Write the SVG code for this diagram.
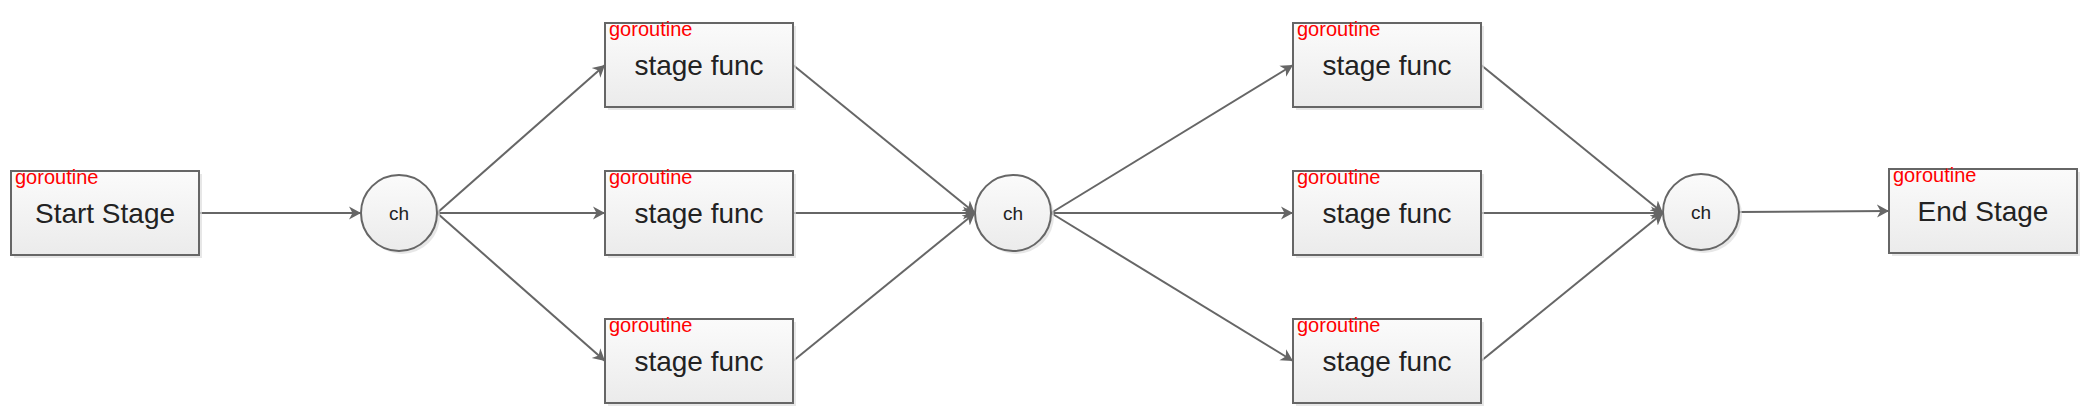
<svg xmlns="http://www.w3.org/2000/svg" width="2082" height="408" viewBox="0 0 2082 408">
<defs>
<linearGradient id="fill" x1="0" y1="0" x2="0" y2="1">
<stop offset="0" stop-color="#fbfbfb"/>
<stop offset="1" stop-color="#ebebeb"/>
</linearGradient>
<marker id="arr" markerUnits="userSpaceOnUse" markerWidth="14" markerHeight="16" viewBox="-12 -8 14 16" refX="0" refY="0" orient="auto">
<path d="M0,0 L-12,-6.5 L-8.5,0 L-12,6.5 Z" fill="#666666"/>
</marker>
</defs>
<style>
.box{fill:url(#fill);stroke:#666666;stroke-width:2}
.shadow{fill:#dddddd;opacity:0.7}
.lbl{font-family:"Liberation Sans",Arial,sans-serif;font-size:28px;fill:#222222;text-anchor:middle}
.tag{font-family:"Liberation Sans",Arial,sans-serif;font-size:20px;fill:#ff0000}
.ch{font-family:"Liberation Sans",Arial,sans-serif;font-size:19px;fill:#222222;text-anchor:middle}
.edge{stroke:#666666;stroke-width:2;fill:none;marker-end:url(#arr)}
</style>
<rect width="2082" height="408" fill="#ffffff"/>

<g id="connectors">
<line class="edge" x1="199" y1="213" x2="361" y2="213"/>
<line class="edge" x1="437" y1="213" x2="605" y2="65"/>
<line class="edge" x1="437" y1="213" x2="605" y2="213"/>
<line class="edge" x1="437" y1="213" x2="605" y2="361"/>
<line class="edge" x1="793" y1="65" x2="975" y2="213"/>
<line class="edge" x1="793" y1="213" x2="975" y2="213"/>
<line class="edge" x1="793" y1="361" x2="975" y2="213"/>
<line class="edge" x1="1051" y1="213" x2="1293" y2="65"/>
<line class="edge" x1="1051" y1="213" x2="1293" y2="213"/>
<line class="edge" x1="1051" y1="213" x2="1293" y2="361"/>
<line class="edge" x1="1481" y1="65" x2="1663" y2="213"/>
<line class="edge" x1="1481" y1="213" x2="1663" y2="213"/>
<line class="edge" x1="1481" y1="361" x2="1663" y2="213"/>
<line class="edge" x1="1739" y1="212" x2="1889" y2="211"/>
</g>

<g id="start">
<rect class="shadow" x="14" y="174" width="188" height="84"/>
<rect class="box" x="11" y="171" width="188" height="84"/>
<text class="tag" x="15" y="184">goroutine</text>
<text class="lbl" x="105" y="223">Start Stage</text>
</g>

<g id="ch1">
<circle class="shadow" cx="402" cy="216" r="38"/>
<circle class="box" cx="399" cy="213" r="38"/>
<text class="ch" x="399" y="220">ch</text>
</g>

<g id="stage1a">
<rect class="shadow" x="608" y="26" width="188" height="84"/>
<rect class="box" x="605" y="23" width="188" height="84"/>
<text class="tag" x="609" y="36">goroutine</text>
<text class="lbl" x="699" y="75">stage func</text>
</g>
<g id="stage1b">
<rect class="shadow" x="608" y="174" width="188" height="84"/>
<rect class="box" x="605" y="171" width="188" height="84"/>
<text class="tag" x="609" y="184">goroutine</text>
<text class="lbl" x="699" y="223">stage func</text>
</g>
<g id="stage1c">
<rect class="shadow" x="608" y="322" width="188" height="84"/>
<rect class="box" x="605" y="319" width="188" height="84"/>
<text class="tag" x="609" y="332">goroutine</text>
<text class="lbl" x="699" y="371">stage func</text>
</g>

<g id="ch2">
<circle class="shadow" cx="1016" cy="216" r="38"/>
<circle class="box" cx="1013" cy="213" r="38"/>
<text class="ch" x="1013" y="220">ch</text>
</g>

<g id="stage2a">
<rect class="shadow" x="1296" y="26" width="188" height="84"/>
<rect class="box" x="1293" y="23" width="188" height="84"/>
<text class="tag" x="1297" y="36">goroutine</text>
<text class="lbl" x="1387" y="75">stage func</text>
</g>
<g id="stage2b">
<rect class="shadow" x="1296" y="174" width="188" height="84"/>
<rect class="box" x="1293" y="171" width="188" height="84"/>
<text class="tag" x="1297" y="184">goroutine</text>
<text class="lbl" x="1387" y="223">stage func</text>
</g>
<g id="stage2c">
<rect class="shadow" x="1296" y="322" width="188" height="84"/>
<rect class="box" x="1293" y="319" width="188" height="84"/>
<text class="tag" x="1297" y="332">goroutine</text>
<text class="lbl" x="1387" y="371">stage func</text>
</g>

<g id="ch3">
<circle class="shadow" cx="1704" cy="215" r="38"/>
<circle class="box" cx="1701" cy="212" r="38"/>
<text class="ch" x="1701" y="219">ch</text>
</g>

<g id="end">
<rect class="shadow" x="1892" y="172" width="188" height="84"/>
<rect class="box" x="1889" y="169" width="188" height="84"/>
<text class="tag" x="1893" y="182">goroutine</text>
<text class="lbl" x="1983" y="221">End Stage</text>
</g>
</svg>
